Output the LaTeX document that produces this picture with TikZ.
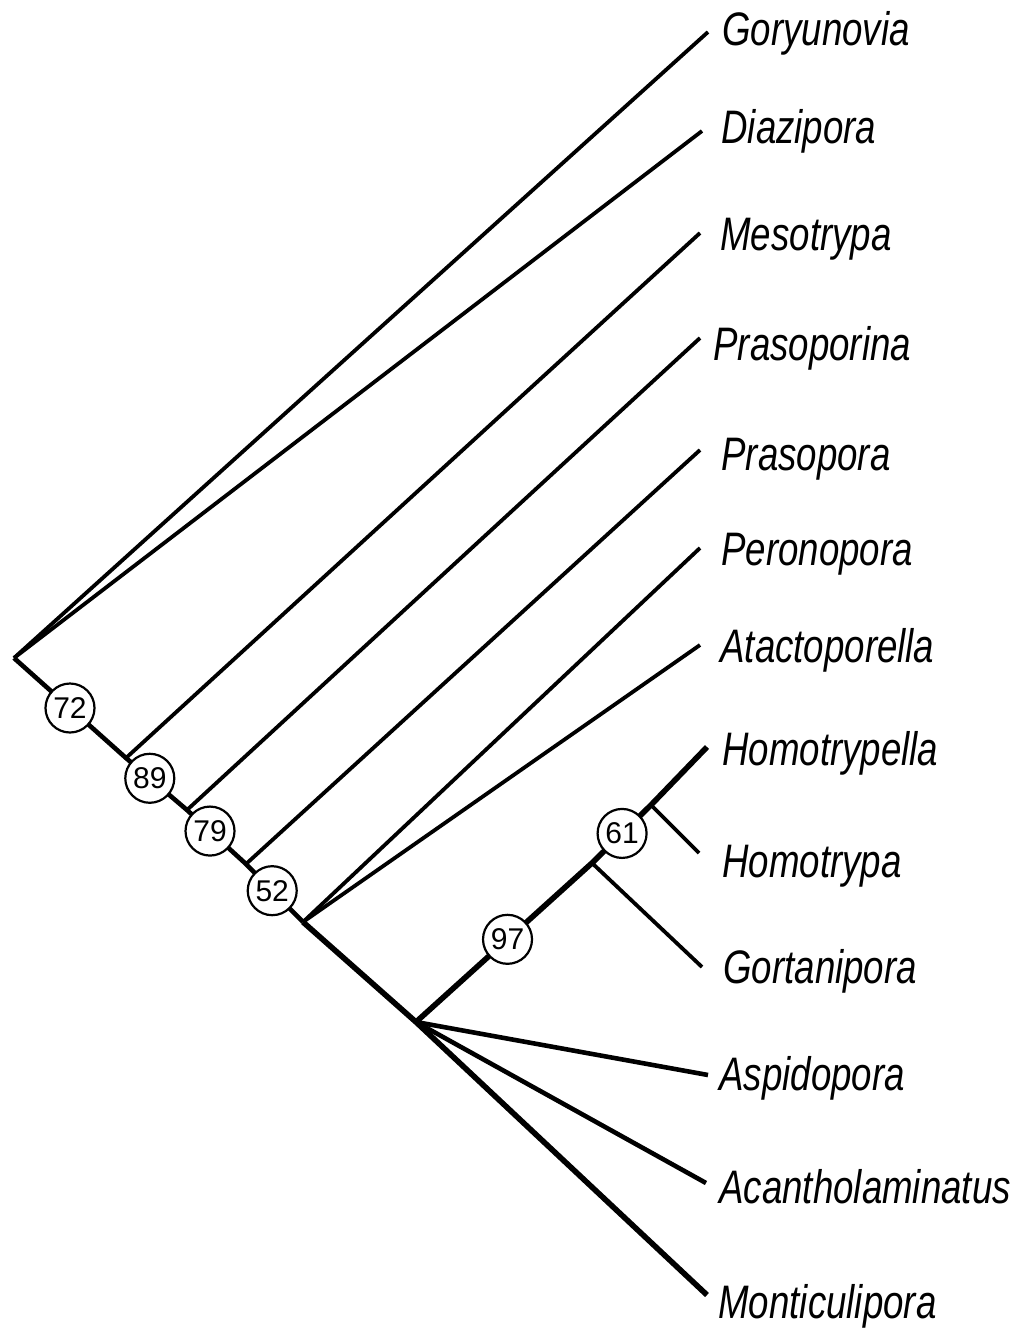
\documentclass[tikz,border=0pt]{standalone}
\usepackage{fontspec}
\setmainfont{Liberation Sans}
\newfontfamily\taxfont{Liberation Sans}[FakeStretch=0.78]

\begin{document}
\begin{tikzpicture}[
  x=0.5pt,y=-0.5pt,
  br/.style={line width=1.9pt},
  stem/.style={line width=2.3pt},
  thk/.style={line width=2.8pt},
  taxon/.style={font=\taxfont\itshape\fontsize{23.5}{23.5}\selectfont,inner sep=0pt,anchor=base west},
  boot/.style={circle,draw,line width=1.1pt,fill=white,inner sep=0pt,minimum size=24.5pt,
               font=\fontsize{15}{15}\selectfont}
]
  \useasboundingbox (0,0) rectangle (1012,1328);

  % nodos internos
  \coordinate (root) at (14,658);
  \coordinate (nA) at (126,758);
  \coordinate (nB) at (187,810);
  \coordinate (nC) at (246,864);
  \coordinate (nD) at (303,922);
  \coordinate (nE) at (416,1022);
  \coordinate (nF) at (592,863);
  \coordinate (nG) at (651,805);

  % extremos de las ramas
  \coordinate (tGory) at (708,32);
  \coordinate (tDiaz) at (702,131);
  \coordinate (tMeso) at (700,233);
  \coordinate (tPrsn) at (700,338);
  \coordinate (tPras) at (700,450);
  \coordinate (tPero) at (700,548);
  \coordinate (tAtac) at (700,645);
  \coordinate (tHmla) at (707,747);
  \coordinate (tHomo) at (699,853);
  \coordinate (tGort) at (702,967);
  \coordinate (tAspi) at (708,1075);
  \coordinate (tAcan) at (706,1183);
  \coordinate (tMont) at (707,1295);

  % taxones
  \node[taxon] (gory) at (722,45)   {Goryunovia};
  \node[taxon] (diaz) at (721,143)  {Diazipora};
  \node[taxon] (meso) at (720,250)  {Mesotrypa};
  \node[taxon] (prsn) at (713,360)  {Prasoporina};
  \node[taxon] (pras) at (721,470)  {Prasopora};
  \node[taxon] (pero) at (721,565)  {Peronopora};
  \node[taxon] (atac) at (720,662)  {Atactoporella};
  \node[taxon] (hmla) at (722,765)  {Homotrypella};
  \node[taxon] (homo) at (722,877)  {Homotrypa};
  \node[taxon] (gort) at (723,983)  {Gortanipora};
  \node[taxon] (aspi) at (719,1090) {Aspidopora};
  \node[taxon] (acan) at (719,1203) {Acantholaminatus};
  \node[taxon] (mont) at (718,1318) {Monticulipora};

  % ramas
  \draw[br] (root) -- (tGory);
  \draw[br] (root) -- (tDiaz);
  \draw[stem] (root) -- (nA) -- (nB) -- (nC) -- (nD);
  \draw[br] (nA) -- (tMeso);
  \draw[br] (nB) -- (tPrsn);
  \draw[br] (nC) -- (tPras);
  \draw[br] (nD) -- (tPero);
  \draw[br] (nD) -- (tAtac);
  \draw[thk] (nD) -- (nE) -- (tMont);
  \draw[stem] (nE) -- (tAspi);
  \draw[stem] (nE) -- (tAcan);
  \draw[thk] (nE) -- (nF) -- (nG) -- (tHmla);
  \draw[br] (nF) -- (tGort);
  \draw[br] (nG) -- (tHomo);

  % valores de bootstrap
  \path (root) -- (nA) node[boot,pos=0.5] (b72) {72};
  \path (nA) -- (nB) node[boot,pos=0.39] (b89) {89};
  \path (nB) -- (nC) node[boot,pos=0.39] (b79) {79};
  \path (nC) -- (nD) node[boot,pos=0.46] (b52) {52};
  \path (nE) -- (nF) node[boot,pos=0.52] (b97) {97};
  \path (nF) -- (nG) node[boot,pos=0.51] (b61) {61};
\end{tikzpicture}
\end{document}
